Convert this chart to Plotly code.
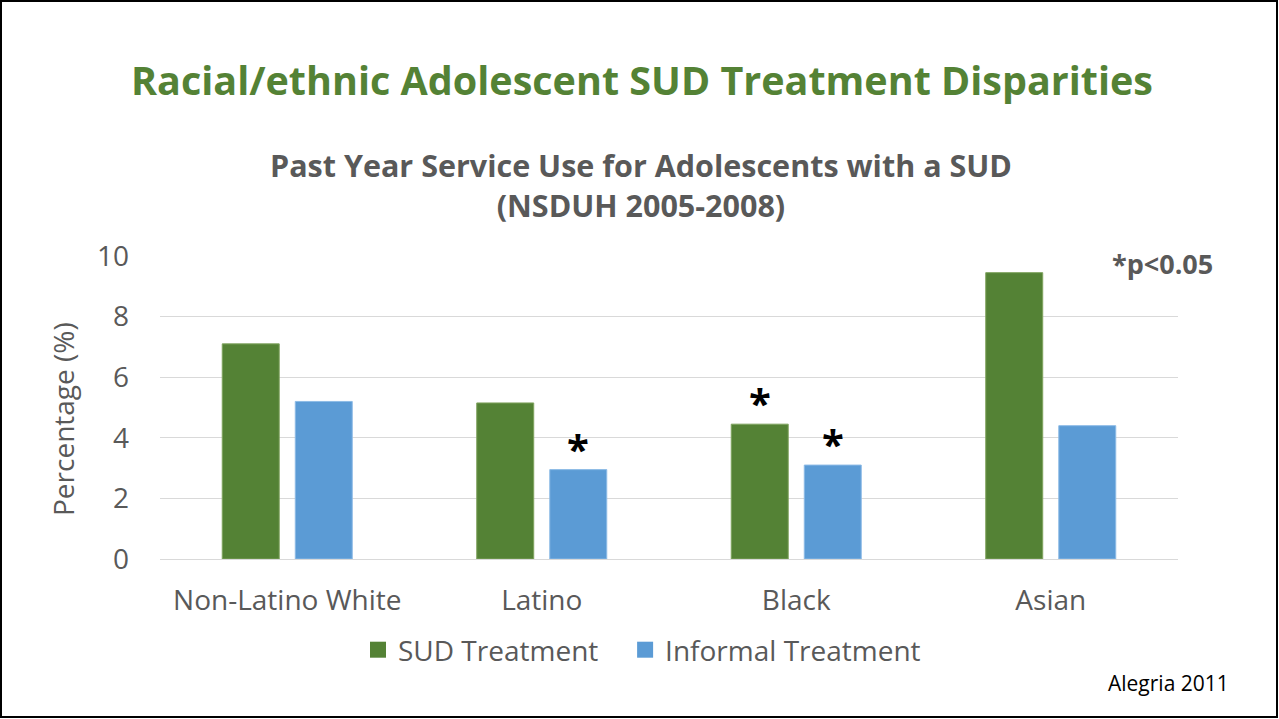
import plotly.graph_objects as go

categories = ["Non-Latino White", "Latino", "Black", "Asian"]
sud_treatment = [7.1, 5.15, 4.45, 9.45]
informal_treatment = [5.2, 2.95, 3.1, 4.4]
sud_significant = [False, False, True, False]
informal_significant = [False, True, True, False]
y_ticks = [0, 2, 4, 6, 8, 10]

GREEN = "#548235"
BLUE = "#5B9BD5"
GREY = "#595959"
FONT = "Open Sans"

fig = go.Figure()
fig.add_trace(go.Bar(name="SUD Treatment", x=categories, y=sud_treatment, showlegend=False,
                     marker=dict(color=GREEN, line=dict(color="#7FA35E", width=1))))
fig.add_trace(go.Bar(name="Informal Treatment", x=categories, y=informal_treatment, showlegend=False,
                     marker=dict(color=BLUE, line=dict(color="#8DBBE6", width=1))))
# legend entries with small square swatches (padded label keeps the entries apart)
for name, color in [("SUD Treatment\u00a0\u00a0\u00a0", GREEN), ("Informal Treatment", BLUE)]:
    fig.add_trace(go.Scatter(x=[None], y=[None], mode="markers", name=name,
                             marker=dict(symbol="square", size=17, color=color)))

# significance markers above bars
bar_offset = 36.5
star_font = dict(family=FONT, size=40, color="black")
for cat, val, sig in zip(categories, sud_treatment, sud_significant):
    if sig:
        fig.add_annotation(x=cat, y=val, xref="x", yref="y", text="<b>*</b>", showarrow=False,
                           xshift=-bar_offset, yshift=-8, yanchor="bottom", font=star_font)
for cat, val, sig in zip(categories, informal_treatment, informal_significant):
    if sig:
        fig.add_annotation(x=cat, y=val, xref="x", yref="y", text="<b>*</b>", showarrow=False,
                           xshift=bar_offset, yshift=-8, yanchor="bottom", font=star_font)

W, H = 1279, 719
L, R, T, B = 160, 101, 256, 160
pw, ph = W - L - R, H - T - B

def px(x):
    return (x - L) / pw

def py(y):
    return (H - B - y) / ph

fig.add_annotation(x=px(642), y=py(80), xref="paper", yref="paper", showarrow=False,
                   text="<b>Racial/ethnic Adolescent SUD Treatment Disparities</b>",
                   font=dict(family=FONT, size=39.5, color=GREEN), xanchor="center", yanchor="middle")
fig.add_annotation(x=px(641), y=py(185), xref="paper", yref="paper", showarrow=False,
                   text="<b>Past Year Service Use for Adolescents with a SUD<br>(NSDUH 2005-2008)</b>",
                   font=dict(family=FONT, size=30.5, color=GREY), xanchor="center", yanchor="middle")
fig.add_annotation(x=px(1110), y=py(263), xref="paper", yref="paper", showarrow=False,
                   text="<b>*p<0.05</b>", font=dict(family=FONT, size=27, color=GREY),
                   xanchor="left", yanchor="middle")
fig.add_annotation(x=px(1231), y=py(683), xref="paper", yref="paper", showarrow=False,
                   text="Alegria 2011", font=dict(family=FONT, size=21, color="black"),
                   xanchor="right", yanchor="middle")
# y-axis title
fig.add_annotation(x=px(63), y=py(419), xref="paper", yref="paper", showarrow=False,
                   text="Percentage (%)", textangle=-90,
                   font=dict(family=FONT, size=28, color=GREY), xanchor="center", yanchor="middle")

# outer frame
fig.add_shape(type="rect", xref="paper", yref="paper",
              x0=px(1), x1=px(W - 2), y0=py(H - 2), y1=py(1),
              line=dict(color="black", width=2))

fig.update_layout(
    width=W, height=H,
    margin=dict(l=L, r=R, t=T, b=B),
    paper_bgcolor="white", plot_bgcolor="white",
    barmode="group", bargap=0.426, bargroupgap=0.22,
    font=dict(family=FONT, color=GREY),
    legend=dict(orientation="h", x=0.5 - 27 / pw, xanchor="center", y=py(650), yanchor="middle",
                font=dict(family=FONT, size=28, color=GREY), itemwidth=30, traceorder="normal"),
    xaxis=dict(tickfont=dict(family=FONT, size=28, color=GREY), showline=True,
               linecolor="#D9D9D9", linewidth=1, ticks="", showgrid=False,
               ticklabelstandoff=16),
    yaxis=dict(range=[0, 10], tickvals=y_ticks, tickfont=dict(family=FONT, size=28, color=GREY),
               showgrid=True, gridcolor="#D9D9D9", gridwidth=1, zeroline=False,
               ticks="", ticklabelstandoff=30),
)

fig.write_html("out.html")
